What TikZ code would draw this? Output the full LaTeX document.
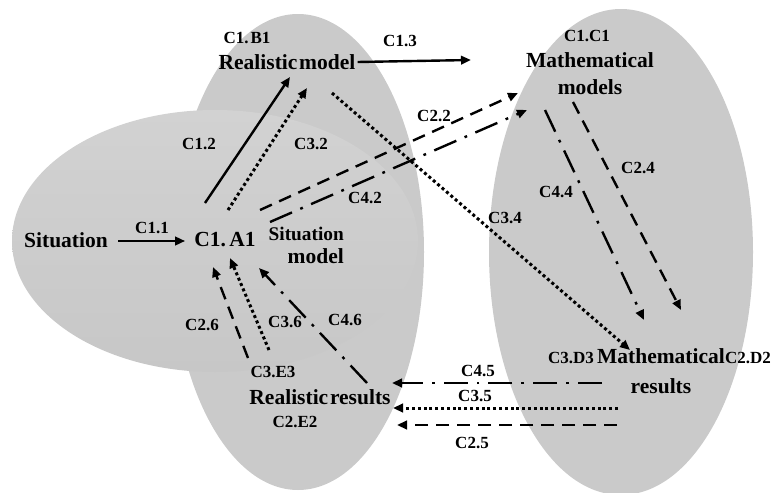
\documentclass[tikz,border=0pt]{standalone}
\usepackage{fontspec}
\setmainfont{Liberation Serif}
\usetikzlibrary{arrows.meta}
\definecolor{blob}{RGB}{202,202,202}
\definecolor{blobtop}{RGB}{210,210,210}
\definecolor{blobbot}{RGB}{199,199,199}
\tikzset{
  big/.style={inner sep=0pt, font=\bfseries\fontsize{21.5}{24}\selectfont},
  lab/.style={inner sep=0pt, font=\bfseries\fontsize{17}{19}\selectfont},
  conn/.style={line width=2.4pt, -{Triangle[length=10pt,width=8.5pt]}},
  solidc/.style={conn},
  dashc/.style={conn, dash pattern=on 13pt off 8pt},
  dotc/.style={conn, line width=3pt, dash pattern=on 3pt off 2.8pt},
  dashdotc/.style={conn, dash pattern=on 24pt off 9pt on 2.8pt off 9pt},
}
\begin{document}
\begin{tikzpicture}[x=1pt,y=-1pt]
\useasboundingbox (0,0) rectangle (772,493);

% grey regions
\fill[blob] (298,252) ellipse [x radius=126, y radius=238];
\fill[blob] (621,252) ellipse [x radius=132, y radius=243];
\shade[top color=blobtop, bottom color=blobbot] (215,241) ellipse [x radius=203, y radius=131];

% main texts
\node[big] (sit) at (66,240) {Situation};
\node[big] (a1) at (225,240) {C1.\hspace{0.16em}A1};
\node[big, align=right, anchor=north east, font=\bfseries\fontsize{21.5}{23}\selectfont] (sitmodel) at (344,227)
  {{\fontsize{19.3}{23}\selectfont Situation}\\model};
\node[big] (b1) at (287,62) {\spaceskip=0.08em Realistic model};
\node[big, align=center, anchor=north, font=\bfseries\fontsize{21.5}{27}\selectfont] (mmodels) at (590,52)
  {Mathematical\\models};
\node[big, anchor=north, align=center, font=\bfseries\fontsize{21.5}{30}\selectfont] (mresults) at (661,348)
  {Mathematical\\results};
\node[big] (rresults) at (320,397) {\spaceskip=0.08em Realistic results};

% node codes
\node[lab] (cb1) at (247,38) {C1.\hspace{0.12em}B1};
\node[lab] (cc1) at (587,36) {C1.C1};
\node[lab] (cd3) at (571,358) {C3.D3};
\node[lab] (cd2) at (748,358) {C2.D2};
\node[lab] (ce3) at (273,372) {C3.E3};
\node[lab] (ce2) at (295,422) {C2.E2};

% connector labels
\node[lab] (l11) at (152,228) {C1.1};
\node[lab] (l12) at (199,144) {C1.2};
\node[lab] (l32) at (311,144) {C3.2};
\node[lab] (l13) at (400,41) {C1.3};
\node[lab] (l22) at (434,116) {C2.2};
\node[lab] (l42) at (365,198) {C4.2};
\node[lab] (l34) at (505,218) {C3.4};
\node[lab] (l44) at (556,192) {C4.4};
\node[lab] (l24) at (638,168) {C2.4};
\node[lab] (l45) at (478,371) {C4.5};
\node[lab] (l35) at (475,396) {C3.5};
\node[lab] (l25) at (472,443) {C2.5};
\node[lab] (l26) at (202,325) {C2.6};
\node[lab] (l36) at (285,322) {C3.6};
\node[lab] (l46) at (345,320) {C4.6};

% connector end points
\coordinate (c12s) at (205,203); \coordinate (c12e) at (290,77);
\coordinate (c13e) at (471,60);
\coordinate (c32s) at (228,210); \coordinate (c32e) at (307,88);
\coordinate (c22s) at (260,210); \coordinate (c22e) at (518,93);
\coordinate (c42s) at (270,222); \coordinate (c42e) at (527,110);
\coordinate (c34s) at (332,93);  \coordinate (c34e) at (630,350);
\coordinate (c44s) at (545,110); \coordinate (c44e) at (644,320);
\coordinate (c24s) at (573,102); \coordinate (c24e) at (681,310);
\coordinate (c45s) at (602,383); \coordinate (c45e) at (392,383);
\coordinate (c35s) at (618,408); \coordinate (c35e) at (393,408);
\coordinate (c25s) at (617,425); \coordinate (c25e) at (397,425);
\coordinate (c26s) at (248,358); \coordinate (c26e) at (213,267);
\coordinate (c36s) at (269,350); \coordinate (c36e) at (230,258);
\coordinate (c46s) at (367,383); \coordinate (c46e) at (259,268);

% connectors
\draw[solidc] ([xshift=10pt,yshift=-1pt]sit.east) -- ([xshift=-9pt,yshift=-1pt]a1.west);
\draw[solidc] (c12s) -- (c12e);
\draw[solidc] ([xshift=2pt]b1.east) -- (c13e);
\draw[dotc] (c32s) -- (c32e);
\draw[dashc] (c22s) -- (c22e);
\draw[dashdotc] (c42s) -- (c42e);
\draw[dotc] (c34s) -- (c34e);
\draw[dashdotc] (c44s) -- (c44e);
\draw[dashc] (c24s) -- (c24e);
\draw[dashdotc] (c45s) -- (c45e);
\draw[dotc] (c35s) -- (c35e);
\draw[dashc] (c25s) -- (c25e);
\draw[dashc] (c26s) -- (c26e);
\draw[dotc] (c36s) -- (c36e);
\draw[dashdotc] (c46s) -- (c46e);
\end{tikzpicture}
\end{document}
